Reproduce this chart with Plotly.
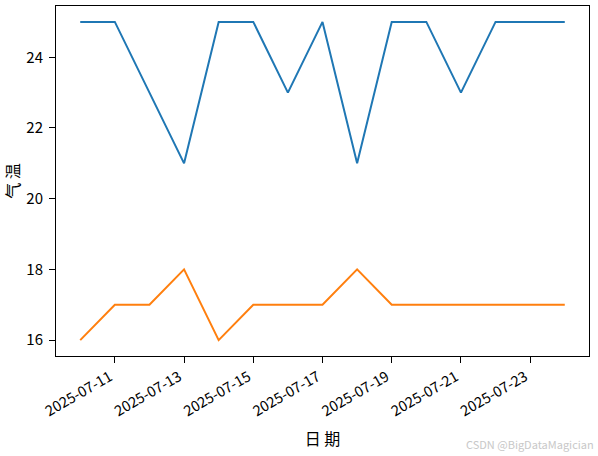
import plotly.graph_objects as go
import pandas as pd

dates = ["2025-07-10", "2025-07-11", "2025-07-12", "2025-07-13", "2025-07-14",
         "2025-07-15", "2025-07-16", "2025-07-17", "2025-07-18", "2025-07-19",
         "2025-07-20", "2025-07-21", "2025-07-22", "2025-07-23", "2025-07-24"]
high_temp = [25, 25, 23, 21, 25, 25, 23, 25, 21, 25, 25, 23, 25, 25, 25]
low_temp = [16, 17, 17, 18, 16, 17, 17, 17, 18, 17, 17, 17, 17, 17, 17]
x_ticks = ["2025-07-11", "2025-07-13", "2025-07-15", "2025-07-17",
           "2025-07-19", "2025-07-21", "2025-07-23"]
y_ticks = [16, 18, 20, 22, 24]

FONT = "Noto Sans CJK SC"

d = pd.to_datetime(dates)
span = d.max() - d.min()
xr = [d.min() - span * 0.05, d.max() + span * 0.05]
ymin, ymax = min(low_temp), max(high_temp)
yr = [ymin - (ymax - ymin) * 0.05, ymax + (ymax - ymin) * 0.05]

fig = go.Figure()
fig.add_trace(go.Scatter(x=dates, y=high_temp, mode="lines",
                         line=dict(color="#1f77b4", width=2), showlegend=False))
fig.add_trace(go.Scatter(x=dates, y=low_temp, mode="lines",
                         line=dict(color="#ff7f0e", width=2), showlegend=False))

axis_common = dict(showline=True, linecolor="black", linewidth=1, mirror=True,
                   ticks="outside", ticklen=6, tickwidth=1, tickcolor="black",
                   showgrid=False, zeroline=False, automargin=False)

fig.update_xaxes(type="date", range=xr, tickvals=x_ticks, ticktext=x_ticks,
                 tickangle=-30, ticklabelshift=-5,
                 tickfont=dict(family=FONT, size=14.5, color="black"),
                 title=dict(text="日 期", font=dict(family=FONT, size=16, color="black"),
                            standoff=14),
                 **axis_common)
fig.update_yaxes(range=yr, tickvals=y_ticks, ticklabelstandoff=3,
                 tickfont=dict(family=FONT, size=15, color="black"),
                 title=dict(text="气 温", font=dict(family=FONT, size=16, color="black"),
                            standoff=4),
                 **axis_common)

fig.add_annotation(text="CSDN @BigDataMagician", xref="paper", yref="paper",
                   x=1.0, xshift=7, y=-0.25, xanchor="right", yanchor="middle", showarrow=False,
                   font=dict(family=FONT, size=11, color="#c8c8c8"))

fig.update_layout(width=598, height=456, plot_bgcolor="white", paper_bgcolor="white",
                  margin=dict(l=56, r=9, t=6, b=100))
fig.write_html("out.html", config={"displayModeBar": False},
               post_script="document.body.style.margin='0';document.body.style.overflow='hidden';")
